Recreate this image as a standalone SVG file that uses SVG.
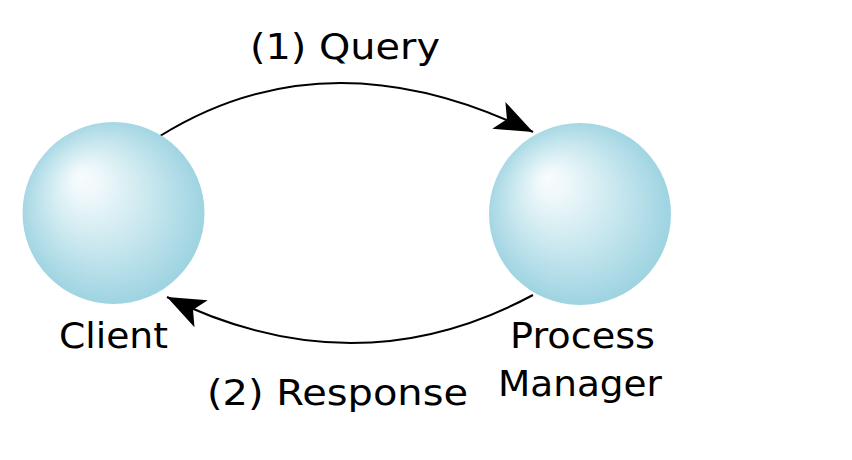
<svg xmlns="http://www.w3.org/2000/svg" width="852" height="460" viewBox="0 0 852 460">
  <style>
    .lbl { font-family: "DejaVu Sans", Verdana, sans-serif; font-size: 36px; fill: #000; }
    .conn { fill: none; stroke: #000; stroke-width: 2; }
    .sphere { fill: url(#sph); }
  </style>
  <defs>
    <radialGradient id="sph" cx="0.5" cy="0.5" r="0.55" fx="0.32" fy="0.3">
      <stop offset="0" stop-color="#f8fcfd"/>
      <stop offset="0.15" stop-color="#eef8fa"/>
      <stop offset="0.55" stop-color="#c6e6ee"/>
      <stop offset="0.9" stop-color="#a1d5e2"/>
      <stop offset="1" stop-color="#98d0de"/>
    </radialGradient>
    <marker id="arrow" markerUnits="userSpaceOnUse" markerWidth="40" markerHeight="34" viewBox="-38 -17 40 34" refX="0" refY="0" orient="auto" overflow="visible">
      <path d="M0,0 L-38,-15 L-29,0 L-38,15 Z" fill="#000"/>
    </marker>
  </defs>
  <rect width="852" height="460" fill="#fff"/>
  <g id="connectors">
    <path class="conn" d="M160,136 Q327.5,32 533,132" marker-end="url(#arrow)"/>
    <path class="conn" d="M533,295 Q356,390 167,297" marker-end="url(#arrow)"/>
    <text class="lbl" x="250" y="59" textLength="190" lengthAdjust="spacingAndGlyphs">(1) Query</text>
    <text class="lbl" x="207" y="405" textLength="261" lengthAdjust="spacingAndGlyphs">(2) Response</text>
  </g>
  <g id="client">
    <circle class="sphere" cx="113.5" cy="213" r="91"/>
    <text class="lbl" x="59" y="348" textLength="109" lengthAdjust="spacingAndGlyphs">Client</text>
  </g>
  <g id="process-manager">
    <circle class="sphere" cx="580" cy="214" r="91"/>
    <text class="lbl" x="510" y="348" textLength="145" lengthAdjust="spacingAndGlyphs">Process</text>
    <text class="lbl" x="498" y="396" textLength="164" lengthAdjust="spacingAndGlyphs">Manager</text>
  </g>
</svg>
